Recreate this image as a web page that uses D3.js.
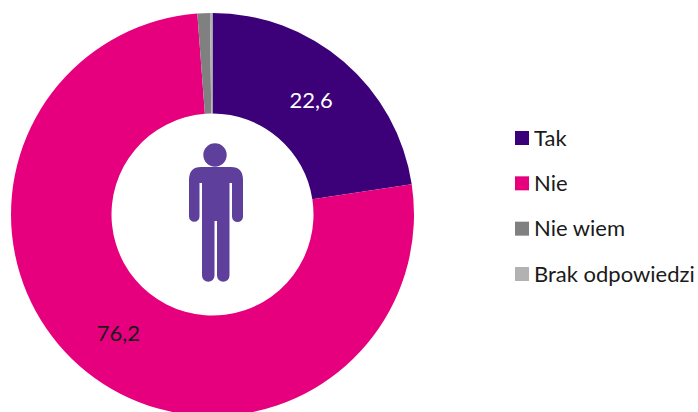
<!DOCTYPE html>
<html>
<head>
<meta charset="utf-8">
<script src="https://cdn.jsdelivr.net/npm/d3@7"></script>
<style>
    html, body { margin: 0; padding: 0; background: #fff; overflow: hidden; }
    text { font-family: Lato, "Open Sans", sans-serif; }
</style>
</head>
<body>
<div id="chart"></div>
<script>
const categories = ['Tak', 'Nie', 'Nie wiem', 'Brak odpowiedzi'];
const values = [22.6, 76.2, 1.0, 0.2];
const valueLabels = ['22,6', '76,2', '', ''];
const colors = ['#3c0078', '#e6007e', '#808080', '#b2b2b2'];
const labelColors = ['#ffffff', '#1a1a1a', '#1a1a1a', '#1a1a1a'];

const width = 698;
const height = 412;
const cx = 212.5;
const cy = 214.5;
const outerRadius = 201.5;
const innerRadius = 101;

const svg = d3.select('#chart')
    .append('svg')
    .attr('width', width)
    .attr('height', height)
    .style('display', 'block');

const pie = d3.pie().value(d => d).sort(null);
const arc = d3.arc().innerRadius(innerRadius).outerRadius(outerRadius);
const arcs = pie(values);

const donut = svg.append('g')
    .attr('transform', `translate(${cx},${cy})`);

donut.selectAll('path')
    .data(arcs)
    .enter().append('path')
    .attr('d', arc)
    .attr('fill', (d, i) => colors[i]);

donut.selectAll('text')
    .data(arcs)
    .enter().append('text')
    .attr('transform', d => `translate(${arc.centroid(d)})`)
    .attr('text-anchor', 'middle')
    .attr('dy', '0.35em')
    .attr('font-size', '22px')
    .attr('fill', (d, i) => labelColors[i])
    .text((d, i) => valueLabels[i]);

// Person icon in the hole
const person = svg.append('g')
    .attr('fill', '#5f3f9c');

person.append('circle')
    .attr('cx', 215)
    .attr('cy', 155)
    .attr('r', 11.7);

person.append('path')
    .attr('d', 'M201 167 H231 Q243 167 243 180 V216.5 A5.5 5.5 0 0 1 232 216.5 V183 H229.5 V275.5 A6.25 6.25 0 0 1 217 275.5 V221 H214.5 V275.5 A6.25 6.25 0 0 1 202 275.5 V183 H199.5 V216.5 A5.25 5.25 0 0 1 189 216.5 V180 Q189 167 201 167 Z');

// Legend
const legendY = d3.scalePoint()
    .domain(categories)
    .range([138, 274]);

const legend = svg.append('g')
    .selectAll('g')
    .data(categories)
    .enter().append('g')
    .attr('transform', d => `translate(515,${legendY(d)})`);

legend.append('rect')
    .attr('y', -7)
    .attr('width', 14)
    .attr('height', 14)
    .attr('fill', (d, i) => colors[i]);

legend.append('text')
    .attr('x', 19)
    .attr('dy', '0.35em')
    .attr('font-size', '22px')
    .attr('fill', '#1a1a1a')
    .text(d => d);
</script>
</body>
</html>
